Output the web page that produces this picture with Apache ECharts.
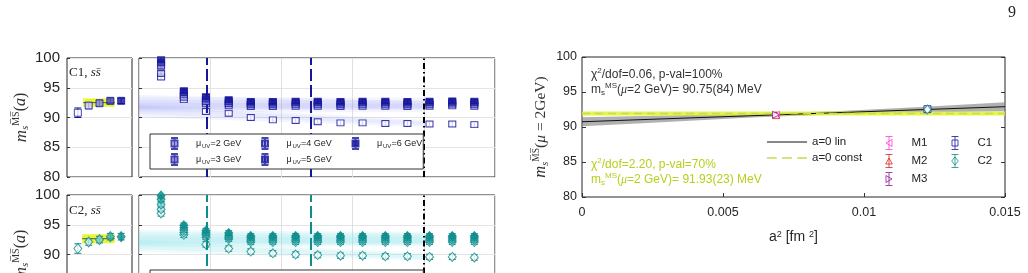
<!DOCTYPE html>
<html>
<head>
<meta charset="utf-8">
<script src="https://cdn.jsdelivr.net/npm/echarts@6/dist/echarts.min.js"></script>
<style>
  html, body { margin: 0; padding: 0; background: #fff; }
  #chart { width: 1028px; height: 273px; }
</style>
</head>
<body>
<div id="chart"></div>
<script>
// ---- values ----
const muLabels = ['2', '3', '4', '5', '6'];

// left panels: one point per mu_UV, plus the plateau fit
const leftX = [1, 2, 3, 4, 5];
const c1Left = [90.8, 92.0, 92.4, 92.8, 92.8];
const c1LeftErr = [0.8, 0.5, 0.45, 0.45, 0.45];
const c2Left = [91.0, 92.1, 92.5, 93.0, 93.0];
const c2LeftErr = [0.8, 0.55, 0.55, 0.55, 0.55];
const c1Plateau = [1.5, 91.8, 93.2, 4.4, 91.8, 93.2];
const c2Plateau = [1.4, 91.9, 93.4, 4.4, 91.9, 93.4];
const c1PlateauVal = 92.5;
const c2PlateauVal = 92.65;

// middle panels
const midX = [0.31, 0.63, 0.94, 1.26, 1.57, 1.88, 2.2, 2.51, 2.83, 3.14, 3.46, 3.77, 4.08, 4.4, 4.71];
const c1Mu2 = [96.8, 93.0, 91.0, 90.7, 90.0, 89.6, 89.5, 89.3, 89.1, 89.1, 89.0, 89.0, 88.9, 88.9, 88.8];
const c1Mu3 = [97.4, 93.4, 92.3, 92.0, 91.85, 91.85, 91.9, 91.9, 91.85, 91.9, 91.9, 91.85, 91.9, 91.95, 91.9];
const c1Mu4 = [98.6, 93.8, 92.7, 92.35, 92.15, 92.15, 92.2, 92.2, 92.15, 92.2, 92.2, 92.15, 92.2, 92.25, 92.2];
const c1Mu5 = [99.2, 94.2, 93.1, 92.7, 92.45, 92.45, 92.5, 92.5, 92.45, 92.5, 92.5, 92.45, 92.5, 92.55, 92.5];
const c1Mu6 = [99.7, 94.5, 93.5, 93.0, 92.7, 92.7, 92.75, 92.75, 92.7, 92.75, 92.75, 92.7, 92.75, 92.8, 92.75];
const c1MidErr = [0.4, 0.35, 0.35, 0.35, 0.35];

const c2Mu2 = [96.9, 93.3, 91.7, 91.0, 90.5, 90.2, 90.0, 89.9, 89.8, 89.8, 89.7, 89.7, 89.6, 89.6, 89.5];
const c2Mu3 = [97.6, 93.7, 92.9, 92.6, 92.1, 92.1, 92.1, 92.1, 92.1, 92.1, 92.1, 92.1, 92.1, 92.1, 92.1];
const c2Mu4 = [98.4, 94.1, 93.3, 92.9, 92.45, 92.45, 92.45, 92.45, 92.45, 92.45, 92.45, 92.45, 92.45, 92.45, 92.45];
const c2Mu5 = [99.3, 94.5, 93.6, 93.2, 92.8, 92.8, 92.8, 92.8, 92.8, 92.8, 92.8, 92.8, 92.8, 92.8, 92.8];
const c2Mu6 = [99.9, 94.9, 94.0, 93.6, 93.1, 93.1, 93.1, 93.1, 93.1, 93.1, 93.1, 93.1, 93.1, 93.1, 93.1];
const c2MidErr = [0.45, 0.4, 0.4, 0.4, 0.4];

// fit bands in the middle panels: [x0, lo0, hi0, x1, lo1, hi1]
const c1Bands = [
  [0, 91.6, 93.4, 4, 91.6, 93.3],
  [0, 91.2, 92.9, 4, 91.4, 92.9],
  [0, 91.4, 93.8, 4, 91.3, 92.7],
  [0, 90.9, 92.5, 4, 90.9, 92.3],
  [0, 90.1, 91.8, 4, 88.4, 89.3],
  [0, 90.6, 92.2, 4, 88.8, 89.6],
];
const c2Bands = [
  [0, 91.8, 93.8, 4, 91.8, 93.6],
  [0, 91.5, 93.4, 4, 91.6, 93.3],
  [0, 91.9, 94.1, 4, 91.9, 93.8],
  [0, 91.2, 92.9, 4, 91.4, 92.9],
  [0, 90.5, 92.0, 4, 89.0, 90.0],
  [0, 90.9, 92.4, 4, 89.3, 90.3],
];
const fitCuts = [0.95, 2.41];
const fitEnd = 4.0;

// right panel: continuum extrapolation
const ensNames = ['M1', 'M2', 'M3', 'C1', 'C2'];
const ensA2 = [0.00688, 0.00688, 0.00688, 0.01225, 0.01225];
const ensMs = [91.75, 91.7, 91.75, 92.55, 92.5];
const ensErr = [0.3, 0.3, 0.3, 0.35, 0.35];
const linX = [0, 0.003, 0.006, 0.009, 0.012, 0.015];
const linLo = [90.1, 90.73, 91.34, 91.82, 92.07, 92.25];
const linHi = [91.4, 91.63, 91.88, 92.26, 92.87, 93.55];
const linEnds = [90.75, 92.9];
const constVal = 91.93;
const constErr = 0.3;

// ---- styling ----
const NAVY = '#16169c';
const TEAL = '#0f8c8c';
const YEL = '#b8cf1c';
const c1Fills = ['#ffffff', '#d0d0f2', '#9090d8', '#4c4cb6', NAVY];
const c2Fills = ['#ffffff', '#c4e8e8', '#86cfcf', '#44acac', TEAL];
const ensColors = ['#ff3fd2', '#d42626', '#8e1c8e', NAVY, TEAL];
const ensSymbols = ['triangle', 'triangle', 'triangle', 'rect', 'diamond'];
const ensRotate = [90, 0, -90, 0, 0];
const SANS = 'Liberation Sans, Arial, sans-serif';
const SERIF = 'Liberation Serif, DejaVu Serif, serif';

const sqIcon = 'path://M0,0L7,0M3.5,0L3.5,11M0,11L7,11M0.5,2.5L6.5,2.5L6.5,8.5L0.5,8.5Z';
const dmIcon = 'path://M0,0L7,0M3.5,0L3.5,11M0,11L7,11M3.5,1L6.8,5.5L3.5,10L0.2,5.5Z';
const ensIcons = [
  'path://M0,0L7,0M3.5,0L3.5,13M0,13L7,13M6.5,3L0.5,6.5L6.5,10Z',
  'path://M0,0L7,0M3.5,0L3.5,13M0,13L7,13M3.5,3.5L6.8,9.5L0.2,9.5Z',
  'path://M0,0L7,0M3.5,0L3.5,13M0,13L7,13M0.5,3L6.5,6.5L0.5,10Z',
  'path://M0,0L7,0M3.5,0L3.5,13M0,13L7,13M0.5,3.5L6.5,3.5L6.5,9.5L0.5,9.5Z',
  'path://M0,0L7,0M3.5,0L3.5,13M0,13L7,13M3.5,2.5L6.8,6.5L3.5,10.5L0.2,6.5Z',
];
const linIcon = 'path://M0,0h40v1.2h-40z';
const constIcon = 'path://M0,0h9v1.5h-9zM14,0h9v1.5h-9zM28,0h9v1.5h-9z';

function errorBars(xi, yi, xs, ys, errs, color, capW, z) {
  return {
    type: 'custom', xAxisIndex: xi, yAxisIndex: yi, z: z, silent: true,
    clip: true,
    data: xs.map((x, i) => [x, ys[i], Array.isArray(errs) ? errs[i] : errs]),
    renderItem(params, api) {
      const x = api.value(0), y = api.value(1), e = api.value(2);
      const hi = api.coord([x, y + e]);
      const lo = api.coord([x, y - e]);
      const h = capW / 2;
      const st = { stroke: color, lineWidth: 1 };
      return {
        type: 'group',
        children: [
          { type: 'line', shape: { x1: hi[0], y1: hi[1], x2: lo[0], y2: lo[1] }, style: st },
          { type: 'line', shape: { x1: hi[0] - h, y1: hi[1], x2: hi[0] + h, y2: hi[1] }, style: st },
          { type: 'line', shape: { x1: lo[0] - h, y1: lo[1], x2: lo[0] + h, y2: lo[1] }, style: st },
        ],
      };
    },
  };
}

function bands(xi, yi, list, color, opacity, z) {
  return {
    type: 'custom', xAxisIndex: xi, yAxisIndex: yi, z: z, silent: true,
    data: list,
    renderItem(params, api) {
      const pts = [
        api.coord([api.value(0), api.value(1)]),
        api.coord([api.value(3), api.value(4)]),
        api.coord([api.value(3), api.value(5)]),
        api.coord([api.value(0), api.value(2)]),
      ];
      return { type: 'polygon', shape: { points: pts }, style: { fill: color, opacity: opacity } };
    },
  };
}

function muLegend(top, names, icon) {
  return {
    left: 150, top: top, orient: 'vertical', height: 32, itemGap: 3, z: 20,
    itemWidth: 7, itemHeight: 11,
    padding: [3, 1, 3, 20],
    borderColor: '#333', borderWidth: 1, borderRadius: 0, backgroundColor: '#fff',
    selectedMode: false,
    data: names.map(n => ({ name: n, icon: icon })),
    formatter: name => {
      const mu = name.slice(-1);
      const t = mu === '6' ? 't6' : 't';
      return '{sp|}{mu|μ}{sub|UV}{' + t + '|=' + mu + ' GeV}';
    },
    textStyle: {
      color: '#222', fontFamily: SANS, fontSize: 9, lineHeight: 11,
      rich: {
        sp: { width: 13, lineHeight: 11 },
        mu: { fontSize: 9, width: 6, lineHeight: 11, fontFamily: SANS, color: '#222' },
        sub: { fontSize: 6, width: 8.5, lineHeight: 11, verticalAlign: 'bottom', fontFamily: SANS, color: '#222' },
        t: { fontSize: 9, width: 47, lineHeight: 11, fontFamily: SANS, color: '#222' },
        t6: { fontSize: 9, width: 30, lineHeight: 11, fontFamily: SANS, color: '#222' },
      },
    },
  };
}

const valueAxisBase = {
  type: 'value', min: 80, max: 100, interval: 5,
  axisLine: { show: false },
  axisTick: { show: true, inside: true, length: 3, lineStyle: { color: '#333' } },
};

function msRich(size) {
  return {
    m: { fontFamily: SERIF, fontStyle: 'italic', fontSize: size + 1, lineHeight: 20, color: '#333' },
    s: { fontFamily: SERIF, fontStyle: 'italic', fontSize: size - 5, lineHeight: 9, verticalAlign: 'bottom', color: '#333' },
    ms: { fontFamily: SERIF, fontSize: size - 6, lineHeight: 9, verticalAlign: 'top', color: '#333' },
    p: { fontFamily: SERIF, fontSize: size, lineHeight: 20, color: '#333' },
    it: { fontFamily: SERIF, fontStyle: 'italic', fontSize: size, lineHeight: 20, color: '#333' },
  };
}

function leftYAxis(gi) {
  return Object.assign({}, valueAxisBase, {
    gridIndex: gi,
    axisLabel: { fontSize: 15, color: '#262626', fontFamily: SANS, margin: 7 },
    splitLine: { show: true, lineStyle: { color: '#e4e4e4' } },
    name: '{m|m}{s|s}{ms|M̅S̅}{p|(}{it|a}{p|)}',
    nameLocation: 'middle', nameGap: 35,
    nameTextStyle: { rich: msRich(16) },
  });
}
function midYAxis(gi) {
  return Object.assign({}, valueAxisBase, {
    gridIndex: gi,
    axisLabel: { show: false },
    splitLine: { show: true, lineStyle: { color: '#e4e4e4' } },
  });
}

const c1Mid = [c1Mu2, c1Mu3, c1Mu4, c1Mu5, c1Mu6];
const c2Mid = [c2Mu2, c2Mu3, c2Mu4, c2Mu5, c2Mu6];
const c1Names = muLabels.map(m => 'c1mu' + m);
const c2Names = muLabels.map(m => 'c2mu' + m);

const series = [];

// --- left panels ---
[[0, c1Left, c1LeftErr, c1Plateau, c1PlateauVal, NAVY, c1Fills, 'rect', [7, 7]],
 [2, c2Left, c2LeftErr, c2Plateau, c2PlateauVal, TEAL, c2Fills, 'diamond', [8, 10]]]
  .forEach(([ax, ys, es, plat, pv, col, fills, sym, size]) => {
    series.push(bands(ax, ax, [plat], '#e3f51e', 0.9, 1));
    series.push({
      type: 'line', xAxisIndex: ax, yAxisIndex: ax, z: 2, silent: true, symbol: 'none',
      lineStyle: { color: '#555', width: 1 },
      data: [[plat[0], pv], [plat[3], pv]],
    });
    series.push(errorBars(ax, ax, leftX, ys, es, col, 7, 3));
    series.push({
      type: 'scatter', xAxisIndex: ax, yAxisIndex: ax, z: 4, symbol: sym, symbolSize: size,
      data: leftX.map((x, i) => ({ value: [x, ys[i]], itemStyle: { color: fills[i] } })),
      itemStyle: { borderColor: col, borderWidth: 1 },
    });
  });

// --- middle panels ---
[[1, c1Mid, c1MidErr, c1Bands, NAVY, c1Fills, 'rect', [7, 6], c1Names, '#7a84f2', 0.09],
 [3, c2Mid, c2MidErr, c2Bands, TEAL, c2Fills, 'diamond', [8, 9], c2Names, '#86e2ec', 0.14]]
  .forEach(([ax, sets, errs, bl, col, fills, sym, size, names, bandCol, bandOp]) => {
    series.push(bands(ax, ax, bl, bandCol, bandOp, 1));
    sets.forEach((ys, k) => {
      series.push(errorBars(ax, ax, midX, ys, errs[k], col, 7, 3 + k));
      const s = {
        name: names[k], type: 'scatter', xAxisIndex: ax, yAxisIndex: ax, z: 3 + k,
        symbol: sym, symbolSize: size, data: midX.map((x, i) => [x, ys[i]]),
        itemStyle: { color: fills[k], borderColor: col, borderWidth: 1 },
      };
      if (k === 0) {
        s.markLine = {
          silent: true, symbol: 'none', label: { show: false },
          data: [
            { xAxis: fitCuts[0], lineStyle: { color: col, width: 2, type: [12, 4] } },
            { xAxis: fitCuts[1], lineStyle: { color: col, width: 2, type: [12, 4] } },
            { xAxis: fitEnd, lineStyle: { color: '#000', width: 2, type: [6, 3, 1.5, 3] } },
          ],
        };
      }
      series.push(s);
    });
  });

// --- right panel ---
series.push({
  type: 'custom', xAxisIndex: 4, yAxisIndex: 4, z: 1, silent: true,
  data: [[linX[0], linLo[0]]],
  renderItem(params, api) {
    const pts = linX.map((x, i) => api.coord([x, linLo[i]]))
      .concat(linX.map((x, i) => api.coord([x, linHi[i]])).reverse());
    return { type: 'polygon', shape: { points: pts }, style: { fill: '#7c7c7c', opacity: 0.6 } };
  },
});
series.push(bands(4, 4, [[0, constVal - constErr, constVal + constErr, 0.015, constVal - constErr, constVal + constErr]], '#e2f22c', 0.85, 2));
series.push({
  name: 'a=0 lin', type: 'line', xAxisIndex: 4, yAxisIndex: 4, z: 3, symbol: 'none', silent: true,
  lineStyle: { color: '#111', width: 1 }, itemStyle: { color: '#111' },
  data: [[0, linEnds[0]], [0.015, linEnds[1]]],
});
series.push({
  name: 'a=0 const', type: 'line', xAxisIndex: 4, yAxisIndex: 4, z: 3, symbol: 'none', silent: true,
  lineStyle: { color: '#c3da5a', width: 1.5, type: [8, 5] }, itemStyle: { color: '#c3da5a' },
  data: [[0, constVal], [0.015, constVal]],
});
ensNames.forEach((n, i) => {
  series.push(errorBars(4, 4, [ensA2[i]], [ensMs[i]], ensErr[i], ensColors[i], 6, 4));
  series.push({
    name: n, type: 'scatter', xAxisIndex: 4, yAxisIndex: 4, z: 5,
    symbol: ensSymbols[i], symbolRotate: ensRotate[i], symbolSize: ensSymbols[i] === 'diamond' ? [7, 9] : 7,
    itemStyle: { color: '#ffffff', borderColor: ensColors[i], borderWidth: 1 },
    data: [[ensA2[i], ensMs[i]]],
  });
});

const annRich = {
  n: { fontFamily: SANS, fontSize: 12, lineHeight: 15 },
  sup: { fontFamily: SANS, fontSize: 8, lineHeight: 8, verticalAlign: 'top' },
  sub: { fontFamily: SANS, fontSize: 8, lineHeight: 7, verticalAlign: 'bottom' },
  it: { fontFamily: SERIF, fontStyle: 'italic', fontSize: 12, lineHeight: 15 },
};
function ann(top, text, color) {
  return { type: 'text', left: 591, top: top, z: 10, style: { text: text, rich: annRich, fill: color } };
}

function ensLegendItem(i) {
  return {
    name: ensNames[i], icon: ensIcons[i],
    itemStyle: { color: '#ffffff', borderColor: ensColors[i], borderWidth: 1 },
  };
}

const gridBase = { show: true, borderColor: '#262626', borderWidth: 1, outerBoundsMode: 'none', containLabel: false };

const option = {
  animation: false,
  backgroundColor: '#fff',
  grid: [
    Object.assign({ left: 67, top: 58, width: 65, height: 119 }, gridBase),
    Object.assign({ left: 139, top: 58, width: 356, height: 119 }, gridBase),
    Object.assign({ left: 67, top: 195, width: 65, height: 119 }, gridBase),
    Object.assign({ left: 139, top: 195, width: 356, height: 119 }, gridBase),
    Object.assign({ left: 582, top: 57, width: 423, height: 140 }, gridBase),
  ],
  xAxis: [
    { gridIndex: 0, type: 'value', min: 0, max: 6, show: false },
    { gridIndex: 1, type: 'value', min: 0, max: 5, interval: 1, axisLabel: { show: false }, axisLine: { show: false },
      axisTick: { show: false }, splitLine: { show: true, lineStyle: { color: '#e0e0e0' } } },
    { gridIndex: 2, type: 'value', min: 0, max: 6, show: false },
    { gridIndex: 3, type: 'value', min: 0, max: 5, interval: 1, axisLabel: { show: false }, axisLine: { show: false },
      axisTick: { show: false }, splitLine: { show: true, lineStyle: { color: '#e0e0e0' } } },
    { gridIndex: 4, type: 'value', min: 0, max: 0.015, interval: 0.005,
      axisLine: { show: false }, splitLine: { show: false },
      axisTick: { show: true, inside: true, length: 4, lineStyle: { color: '#333' } },
      axisLabel: { fontSize: 12.5, color: '#262626', fontFamily: SANS, margin: 9,
        formatter: v => (v === 0 ? '0' : String(+v.toFixed(3))) },
      name: 'a{sup|2} [fm {sup|2}]', nameLocation: 'middle', nameGap: 33,
      nameTextStyle: { fontSize: 14, color: '#262626', fontFamily: SANS,
        rich: { sup: { fontSize: 9, verticalAlign: 'top', lineHeight: 9, fontFamily: SANS, color: '#262626' } } } },
  ],
  yAxis: [
    leftYAxis(0),
    midYAxis(1),
    leftYAxis(2),
    midYAxis(3),
    Object.assign({}, valueAxisBase, {
      gridIndex: 4,
      axisTick: { show: true, inside: true, length: 4, lineStyle: { color: '#333' } },
      axisLabel: { fontSize: 12.5, color: '#262626', fontFamily: SANS, margin: 5 },
      splitLine: { show: false },
      name: '{m|m}{s|s}{ms|M̅S̅}{p|(}{it|μ}{p| = 2GeV)}',
      nameLocation: 'middle', nameGap: 31,
      nameTextStyle: { rich: msRich(15.5) },
    }),
    Object.assign({}, valueAxisBase, {
      gridIndex: 4, position: 'right',
      axisTick: { show: true, inside: true, length: 4, lineStyle: { color: '#333' } },
      axisLabel: { show: false }, splitLine: { show: false },
    }),
  ],
  legend: [
    muLegend(134, c1Names, sqIcon),
    muLegend(270, c2Names, dmIcon),
    {
      left: 767, top: 136, orient: 'vertical', itemGap: 4, itemWidth: 40, itemHeight: 13,
      selectedMode: false, padding: 0,
      data: [{ name: 'a=0 lin', icon: linIcon }, { name: 'a=0 const', icon: constIcon }],
      textStyle: { fontSize: 11.5, color: '#222', fontFamily: SANS },
    },
    {
      left: 885, top: 136, orient: 'vertical', itemGap: 4, itemWidth: 7, itemHeight: 13,
      selectedMode: false, padding: 0,
      data: [0, 1, 2].map(ensLegendItem),
      formatter: n => '{sp|}' + n,
      textStyle: { fontSize: 11.5, color: '#222', fontFamily: SANS, rich: { sp: { width: 14 } } },
    },
    {
      left: 951, top: 136, orient: 'vertical', itemGap: 4, itemWidth: 7, itemHeight: 13,
      selectedMode: false, padding: 0,
      data: [3, 4].map(ensLegendItem),
      formatter: n => '{sp|}' + n,
      textStyle: { fontSize: 11.5, color: '#222', fontFamily: SANS, rich: { sp: { width: 14 } } },
    },
  ],
  graphic: [
    { type: 'text', left: 1008, top: 5, style: { text: '9', font: '16px ' + SERIF, fill: '#222' } },
    { type: 'text', left: 69, top: 66, z: 10, style: { text: '{n|C1, }{i|ss̄}',
      rich: { n: { fontFamily: SERIF, fontSize: 13 }, i: { fontFamily: SERIF, fontStyle: 'italic', fontSize: 13 } }, fill: '#222' } },
    { type: 'text', left: 69, top: 204, z: 10, style: { text: '{n|C2, }{i|ss̄}',
      rich: { n: { fontFamily: SERIF, fontSize: 13 }, i: { fontFamily: SERIF, fontStyle: 'italic', fontSize: 13 } }, fill: '#222' } },
    ann(67, '{n|χ}{sup|2}{n|/dof=0.06, p-val=100%}', '#333'),
    ann(82, '{n|m}{sub|s}{sup|MS}{n|(}{it|μ}{n|=2 GeV)= 90.75(84) MeV}', '#333'),
    ann(157, '{n|χ}{sup|2}{n|/dof=2.20, p-val=70%}', YEL),
    ann(172, '{n|m}{sub|s}{sup|MS}{n|(}{it|μ}{n|=2 GeV)= 91.93(23) MeV}', YEL),
  ],
  series: series,
};

const chart = echarts.init(document.getElementById('chart'));
chart.setOption(option);
</script>
</body>
</html>
